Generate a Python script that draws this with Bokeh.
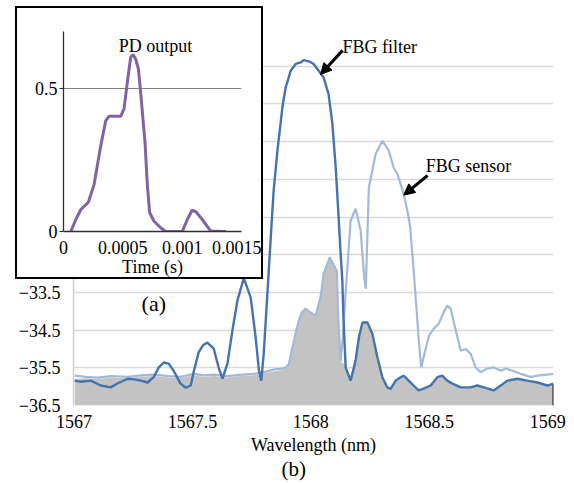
from bokeh.plotting import figure
from bokeh.models import FixedTicker, Label, Arrow, NormalHead, Range1d, Title
from bokeh.embed import file_html
from bokeh.resources import INLINE

FONT = "Liberation Serif"

# ---------------- main chart (b) data ----------------
filter_wl = [1567.003, 1567.028, 1567.071, 1567.113, 1567.155, 1567.185, 1567.227, 1567.250,
             1567.282, 1567.311, 1567.336, 1567.358, 1567.379, 1567.400, 1567.421, 1567.450,
             1567.472, 1567.493, 1567.505, 1567.526, 1567.545, 1567.563, 1567.590, 1567.611,
             1567.627, 1567.648, 1567.669, 1567.690, 1567.717, 1567.746, 1567.767, 1567.781,
             1567.791, 1567.801, 1567.814, 1567.830, 1567.843, 1567.859, 1567.880, 1567.894,
             1567.915, 1567.936, 1567.957, 1567.970, 1567.991, 1568.012, 1568.033, 1568.054,
             1568.075, 1568.091, 1568.105, 1568.115, 1568.126, 1568.133, 1568.138, 1568.147,
             1568.168, 1568.189, 1568.203, 1568.218, 1568.239, 1568.260, 1568.281, 1568.302,
             1568.323, 1568.337, 1568.358, 1568.379, 1568.392, 1568.413, 1568.434, 1568.455,
             1568.476, 1568.506, 1568.534, 1568.555, 1568.576, 1568.598, 1568.633, 1568.675,
             1568.703, 1568.730, 1568.772, 1568.802, 1568.830, 1568.872, 1568.914, 1568.957,
             1568.999, 1569.024]
filter_db = [-35.84, -35.87, -35.84, -35.97, -36.02, -35.91, -35.79, -35.80,
             -35.84, -35.89, -35.75, -35.49, -35.36, -35.39, -35.58, -35.92,
             -36.03, -35.97, -35.62, -35.10, -34.90, -34.83, -34.99, -35.50,
             -35.79, -35.39, -34.51, -33.72, -33.12, -33.63, -34.69, -35.58,
             -35.84, -35.13, -33.80, -32.13, -30.80, -29.74, -28.59, -28.06,
             -27.62, -27.44, -27.40, -27.34, -27.37, -27.44, -27.62, -27.80,
             -28.24, -29.03, -30.18, -31.25, -32.48, -33.19, -34.20, -35.49,
             -35.84, -35.31, -34.69, -34.30, -34.30, -34.60, -35.22, -35.75,
             -36.02, -36.06, -35.84, -35.75, -35.71, -35.84, -35.97, -36.10,
             -36.05, -35.97, -35.75, -35.71, -35.84, -35.92, -36.02, -36.02,
             -35.97, -36.02, -36.10, -35.97, -35.84, -35.79, -35.84, -35.89,
             -35.97, -35.92]

sensor_wl = [1567.003, 1567.050, 1567.100, 1567.155, 1567.227, 1567.282, 1567.336, 1567.400,
             1567.450, 1567.505, 1567.550, 1567.590, 1567.648, 1567.700, 1567.760, 1567.800,
             1567.840, 1567.880, 1567.894, 1567.907, 1567.919, 1567.935, 1567.949, 1567.962,
             1567.977, 1567.999, 1568.020, 1568.041, 1568.054, 1568.080, 1568.110, 1568.116,
             1568.126, 1568.135, 1568.147, 1568.168, 1568.189, 1568.210, 1568.226, 1568.232,
             1568.245, 1568.274, 1568.302, 1568.329, 1568.350, 1568.365, 1568.392, 1568.413,
             1568.420, 1568.434, 1568.447, 1568.455, 1568.466, 1568.486, 1568.499, 1568.519,
             1568.540, 1568.561, 1568.576, 1568.590, 1568.612, 1568.633, 1568.654, 1568.675,
             1568.696, 1568.717, 1568.745, 1568.772, 1568.802, 1568.823, 1568.851, 1568.886,
             1568.928, 1568.957, 1568.999, 1569.024]
sensor_db = [-35.71, -35.74, -35.76, -35.72, -35.74, -35.70, -35.68, -35.72,
             -35.74, -35.66, -35.70, -35.68, -35.72, -35.69, -35.66, -35.62,
             -35.55, -35.52, -35.49, -35.40, -35.05, -34.60, -34.25, -34.03,
             -33.93, -34.03, -34.12, -33.63, -33.00, -32.57, -32.93, -34.25,
             -35.31, -34.70, -33.50, -31.60, -31.28, -31.85, -33.14, -33.40,
             -30.73, -29.82, -29.48, -29.74, -30.20, -30.35, -30.88, -31.50,
             -31.80, -32.90, -34.00, -34.70, -35.49, -34.96, -34.65, -34.46,
             -34.33, -34.03, -33.85, -33.93, -34.51, -35.05, -35.00, -35.13,
             -35.49, -35.62, -35.52, -35.49, -35.58, -35.52, -35.58, -35.66,
             -35.74, -35.71, -35.68, -35.66]

gray_wl = [1567.003, 1567.050, 1567.100, 1567.155, 1567.227, 1567.282, 1567.336, 1567.400,
           1567.450, 1567.505, 1567.550, 1567.590, 1567.648, 1567.700, 1567.760, 1567.800,
           1567.840, 1567.880, 1567.894, 1567.907, 1567.919, 1567.935, 1567.949, 1567.962,
           1567.977, 1567.999, 1568.020, 1568.041, 1568.054, 1568.080, 1568.110, 1568.116,
           1568.126, 1568.140, 1568.147, 1568.168, 1568.189, 1568.203, 1568.218, 1568.239,
           1568.260, 1568.281, 1568.302, 1568.323, 1568.337, 1568.358, 1568.379, 1568.392,
           1568.413, 1568.434, 1568.455, 1568.476, 1568.506, 1568.534, 1568.555, 1568.576,
           1568.598, 1568.633, 1568.675, 1568.703, 1568.730, 1568.772, 1568.802, 1568.830,
           1568.872, 1568.914, 1568.957, 1568.999, 1569.024]
gray_db = [-35.80, -35.78, -35.80, -35.76, -35.78, -35.74, -35.72, -35.76,
           -35.78, -35.70, -35.74, -35.72, -35.76, -35.72, -35.70, -35.66,
           -35.60, -35.56, -35.52, -35.42, -35.05, -34.60, -34.25, -34.03,
           -33.93, -34.03, -34.12, -33.63, -33.00, -32.57, -32.93, -34.25,
           -35.31, -35.40, -35.49, -35.84, -35.31, -34.69, -34.30, -34.30,
           -34.60, -35.22, -35.75, -36.02, -36.06, -35.84, -35.75, -35.71,
           -35.84, -35.97, -36.10, -36.05, -35.97, -35.75, -35.71, -35.84,
           -35.92, -36.02, -36.02, -35.97, -36.02, -36.10, -35.97, -35.84,
           -35.79, -35.84, -35.89, -35.97, -35.92]

wl_ticks = [1567, 1567.5, 1568, 1568.5, 1569]
wl_labels = ["1567", "1567.5", "1568", "1568.5", "1569"]
db_ticks = [-36.5, -35.5, -34.5, -33.5]
db_labels = ["\u221236.5", "\u221235.5", "\u221234.5", "\u221233.5"]
db_grid = [-36.5, -35.5, -34.5, -33.5, -32.5, -31.5, -30.5, -29.5, -28.5, -27.5]

# ---------------- inset (a) data ----------------
pd_t = [0.0000617, 0.000104, 0.000146, 0.00021, 0.000258, 0.000314, 0.000356, 0.000384,
        0.000482, 0.00051, 0.000538, 0.000566, 0.000586, 0.000608, 0.000631, 0.00065,
        0.000687, 0.000707, 0.000726, 0.000763, 0.000819, 0.000861, 0.001001, 0.001043,
        0.001085, 0.001119, 0.001169, 0.00124, 0.00135, 0.00137]
pd_v = [0.0, 0.042, 0.077, 0.103, 0.165, 0.300, 0.388, 0.403,
        0.403, 0.429, 0.522, 0.610, 0.619, 0.604, 0.569, 0.487,
        0.311, 0.159, 0.066, 0.036, 0.013, 0.0, 0.0, 0.042,
        0.075, 0.068, 0.042, 0.002, 0.0, 0.0]
t_ticks = [0, 0.0005, 0.001, 0.0015]
t_labels = ["0", "0.0005", "0.001", "0.0015"]
v_ticks = [0, 0.5]
v_labels = ["0", "0.5"]

FILTER_C = "#4673ab"
SENSOR_C = "#a3b9da"
GRAY_C = "#c3c3c3"

# ---------------- main figure ----------------
y_lo = -36.5
p = figure(width=572, height=482,
           x_range=Range1d(1566.998, 1569.0246), y_range=Range1d(y_lo, -26.5),
           output_backend="svg", toolbar_location=None,
           min_border_left=73, min_border_right=19, min_border_top=28, min_border_bottom=77)
p.outline_line_color = None
p.background_fill_color = "white"
p.border_fill_color = "white"

p.xgrid.visible = False
p.ygrid.ticker = FixedTicker(ticks=db_grid)
p.ygrid.grid_line_color = "#d9d9d9"
p.ygrid.grid_line_width = 1.5

p.varea(x=gray_wl, y1=y_lo, y2=gray_db, fill_color=GRAY_C)
p.segment(x0=gray_wl[-1], y0=y_lo, x1=gray_wl[-1], y1=gray_db[-1], line_color="#333333", line_width=2)
p.line(sensor_wl, sensor_db, line_color=SENSOR_C, line_width=2.2)
p.line(filter_wl, filter_db, line_color=FILTER_C, line_width=2.4)

p.xaxis.ticker = FixedTicker(ticks=wl_ticks)
p.xaxis.major_label_overrides = dict(zip(wl_ticks, wl_labels))
p.xaxis.axis_line_color = None
p.xaxis.major_tick_line_color = None
p.xaxis.minor_tick_line_color = None
p.xaxis.major_label_standoff = 3
p.xaxis.major_label_text_font = FONT
p.xaxis.major_label_text_font_size = "18px"
p.xaxis.major_label_text_color = "black"
p.xaxis.axis_label = "Wavelength (nm)"
p.xaxis.axis_label_text_font = FONT
p.xaxis.axis_label_text_font_size = "18px"
p.xaxis.axis_label_text_font_style = "normal"
p.xaxis.axis_label_text_color = "black"
p.xaxis.axis_label_standoff = 4

p.add_layout(Title(text="(b)", align="left", offset=208, standoff=-5,
                   text_font=FONT, text_font_size="21px", text_font_style="normal",
                   text_color="black"), "below")

p.yaxis.ticker = FixedTicker(ticks=db_ticks)
p.yaxis.major_label_overrides = dict(zip(db_ticks, db_labels))
p.yaxis.axis_line_color = "#d0d0d0"
p.yaxis.axis_line_width = 1.5
p.yaxis.major_tick_line_color = None
p.yaxis.minor_tick_line_color = None
p.yaxis.major_label_standoff = 7
p.yaxis.major_label_text_font = FONT
p.yaxis.major_label_text_font_size = "18px"
p.yaxis.major_label_text_color = "black"

p.add_layout(Arrow(end=NormalHead(size=11, fill_color="black", line_color="black"),
                   x_start=1568.134, y_start=-27.08, x_end=1568.041, y_end=-27.72,
                   line_color="black", line_width=3))
p.add_layout(Arrow(end=NormalHead(size=11, fill_color="black", line_color="black"),
                   x_start=1568.493, y_start=-30.40, x_end=1568.392, y_end=-30.92,
                   line_color="black", line_width=3))
p.add_layout(Label(x=1568.134, y=-26.98, text="FBG filter", text_font=FONT,
                   text_font_size="18px", text_color="black", text_baseline="alphabetic"))
p.add_layout(Label(x=1568.485, y=-30.14, text="FBG sensor", text_font=FONT,
                   text_font_size="18px", text_color="black", text_baseline="alphabetic"))
p.add_layout(Label(x=1567.337, y=-33.80, text="(a)", text_font=FONT, text_font_size="22px",
                   text_color="black", text_align="center", text_baseline="middle"))

# ---------------- inset figure ----------------
q = figure(width=248, height=273,
           x_range=Range1d(0, 0.0015), y_range=Range1d(0, 0.7),
           output_backend="svg", toolbar_location=None,
           min_border_left=46, min_border_right=24, min_border_top=23, min_border_bottom=50,
           styles={"position": "absolute", "left": "15px", "top": "6px", "z-index": "10",
                   "border": "2.5px solid black", "box-sizing": "border-box",
                   "background-color": "white"})
q.outline_line_color = None
q.background_fill_color = "white"
q.border_fill_color = "white"
q.xgrid.visible = False
q.ygrid.ticker = FixedTicker(ticks=[0.5])
q.ygrid.grid_line_color = "#808080"
q.ygrid.grid_line_width = 1.2

q.line(pd_t, pd_v, line_color="#8064a2", line_width=3)

q.xaxis.ticker = FixedTicker(ticks=t_ticks)
q.xaxis.major_label_overrides = dict(zip(t_ticks, t_labels))
q.yaxis.ticker = FixedTicker(ticks=v_ticks)
q.yaxis.major_label_overrides = dict(zip(v_ticks, v_labels))
for ax in (q.xaxis, q.yaxis):
    ax.axis_line_color = "#303030"
    ax.axis_line_width = 1.3
    ax.minor_tick_line_color = None
    ax.major_label_text_font = FONT
    ax.major_label_text_font_size = "18px"
    ax.major_label_text_color = "black"
q.xaxis.major_tick_line_color = None
q.xaxis.major_label_standoff = 3
q.yaxis.major_tick_line_color = "#303030"
q.yaxis.major_tick_out = 4
q.yaxis.major_tick_in = 0
q.yaxis.major_label_standoff = 2
q.xaxis.axis_label = "Time (s)"
q.xaxis.axis_label_text_font = FONT
q.xaxis.axis_label_text_font_size = "18px"
q.xaxis.axis_label_text_font_style = "normal"
q.xaxis.axis_label_text_color = "black"
q.xaxis.axis_label_standoff = 0

q.add_layout(Label(x=0.000775, y=0.65, text="PD output", text_font=FONT, text_font_size="18px",
                   text_color="black", text_align="center", text_baseline="middle"))

open("out.html", "w").write(file_html([p, q], INLINE))
